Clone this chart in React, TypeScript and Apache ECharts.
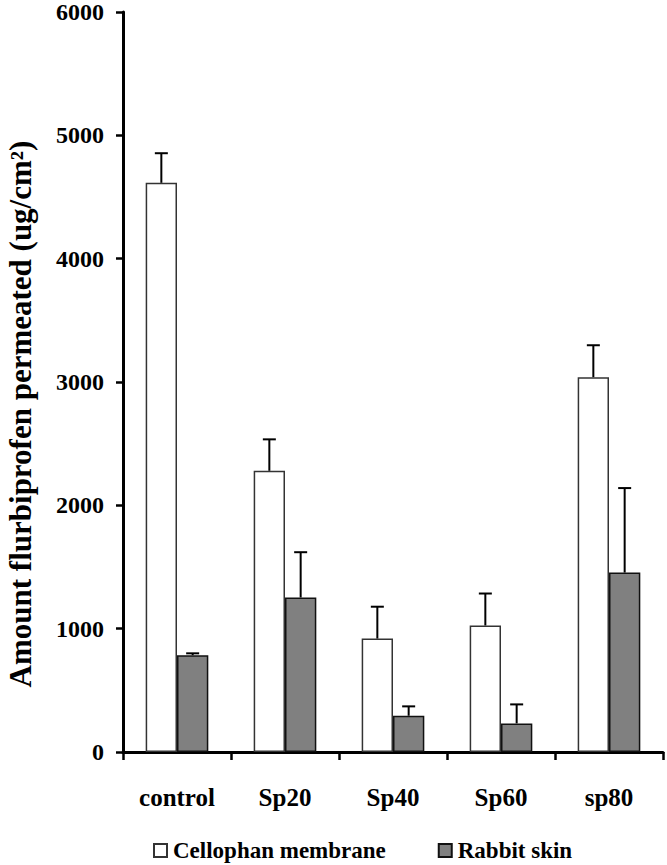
import React, { useEffect, useRef } from "react";
import * as echarts from "echarts";

const categories = ["control", "Sp20", "Sp40", "Sp60", "sp80"];
const cellophanMean = [4615, 2280, 920, 1026, 3039];
const cellophanSD = [240, 255, 258, 259, 259];
const rabbitMean = [785, 1253, 294, 232, 1455];
const rabbitSD = [15, 367, 76, 154, 685];
const yTicks = { min: 0, max: 6000, interval: 1000 };

const BAR_FRAC = 0.29;
const FONT = "'Liberation Serif', 'Times New Roman', serif";

function errorSeries(means: number[], sds: number[], sign: number) {
  return {
    type: "custom",
    z: 5,
    silent: true,
    encode: { x: 0, y: 1 },
    data: means.map((m, i) => [i, m, sds[i]]),
    renderItem: (params: any, api: any) => {
      const x = api.value(0);
      const m = api.value(1);
      const sd = api.value(2);
      const p0 = api.coord([x, m]);
      const p1 = api.coord([x, m + sd]);
      const bw = api.size([1, 0])[0] * BAR_FRAC;
      const cx = p0[0] + (sign * bw) / 2;
      const st = { stroke: "#000", lineWidth: 2 };
      return {
        type: "group",
        children: [
          { type: "line", shape: { x1: cx, y1: p0[1], x2: cx, y2: p1[1] }, style: st },
          { type: "line", shape: { x1: cx - 6.5, y1: p1[1], x2: cx + 6.5, y2: p1[1] }, style: st },
        ],
      };
    },
  };
}

export default function App() {
  const ref = useRef<HTMLDivElement>(null);
  useEffect(() => {
    if (!ref.current) return;
    const chart = echarts.init(ref.current, null, { renderer: "svg" });
    chart.setOption({
      animation: false,
      backgroundColor: "#fff",
      grid: { left: 123, right: 4, top: 11, bottom: 113, containLabel: false },
      legend: {
        data: ["Cellophan membrane", "Rabbit skin"],
        left: 148,
        top: 834,
        icon: "rect",
        itemWidth: 13,
        itemHeight: 13,
        itemGap: 52,
        textStyle: { fontFamily: FONT, fontSize: 23, fontWeight: "bold", color: "#000", padding: [0, 0, 0, 1] },
      },
      xAxis: {
        type: "category",
        data: categories,
        axisLine: { lineStyle: { color: "#000", width: 3 } },
        axisTick: { show: true, inside: false, length: 8, lineStyle: { color: "#000", width: 2.5 } },
        axisLabel: { fontFamily: FONT, fontSize: 25, fontWeight: "bold", color: "#000", margin: 33 },
        splitLine: { show: false },
      },
      yAxis: {
        type: "value",
        min: yTicks.min,
        max: yTicks.max,
        interval: yTicks.interval,
        axisLine: { show: true, lineStyle: { color: "#000", width: 3 } },
        axisTick: { show: true, inside: false, length: 7, lineStyle: { color: "#000", width: 2.5 } },
        axisLabel: {
          fontFamily: FONT,
          fontSize: 24,
          fontWeight: "bold",
          color: "#000",
          margin: 19,
          formatter: (v: number) => String(v),
        },
        splitLine: { show: false },
      },
      graphic: [
        {
          type: "text",
          x: 20,
          y: 414,
          rotation: Math.PI / 2,
          style: {
            text: "Amount flurbiprofen permeated (ug/cm²)",
            fontFamily: FONT,
            fontSize: 31,
            fontWeight: "bold",
            fill: "#000",
            align: "center",
            verticalAlign: "middle",
          },
        },
      ],
      series: [
        {
          name: "Cellophan membrane",
          type: "bar",
          data: cellophanMean,
          barWidth: BAR_FRAC * 100 + "%",
          barGap: "0%",
          itemStyle: { color: "#fff", borderColor: "#333", borderWidth: 1.5 },
        },
        {
          name: "Rabbit skin",
          type: "bar",
          data: rabbitMean,
          barWidth: BAR_FRAC * 100 + "%",
          barGap: "0%",
          itemStyle: { color: "#808080", borderColor: "#111", borderWidth: 1.5 },
        },
        errorSeries(cellophanMean, cellophanSD, -1),
        errorSeries(rabbitMean, rabbitSD, 1),
      ],
    });
    return () => chart.dispose();
  }, []);
  return (
    <div
      ref={ref}
      style={{ position: "fixed", left: 0, top: 0, width: 667, height: 865, background: "#fff" }}
    />
  );
}
